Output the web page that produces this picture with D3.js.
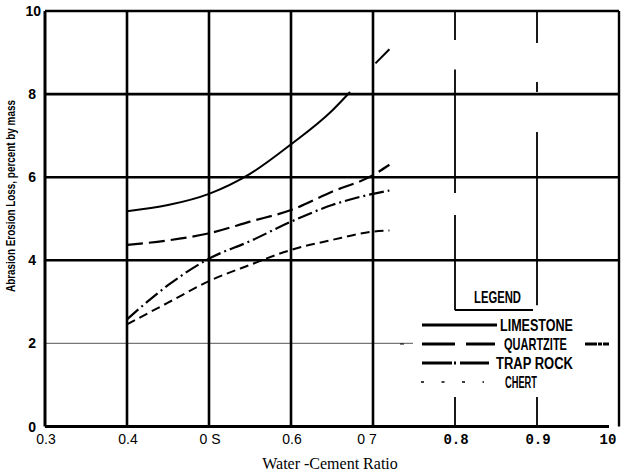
<!DOCTYPE html>
<html>
<head>
<meta charset="utf-8">
<script src="https://cdn.jsdelivr.net/npm/d3@7"></script>
<style>
  body { margin: 0; background: #fff; }
  svg { display: block; }
</style>
</head>
<body>
<div id="canvas"></div>
<script>
// water-cement ratio positions
const ratios = [0.4, 0.45, 0.5, 0.55, 0.6, 0.65, 0.7, 0.72];
// abrasion erosion loss, percent by mass
const limestoneX = [0.4, 0.45, 0.5, 0.55, 0.6, 0.65, 0.672, 0.686, 0.703, 0.72];
const limestone = [5.18, 5.33, 5.6, 6.08, 6.79, 7.6, 8.05, null, 8.74, 9.08];
const quartzite = [4.37, 4.48, 4.65, 4.93, 5.21, 5.65, 6.05, 6.3];
const trapRock = [2.58, 3.4, 4.04, 4.46, 4.93, 5.33, 5.6, 5.68];
const chert = [2.46, 2.98, 3.5, 3.89, 4.25, 4.49, 4.69, 4.72];

const xTicks = [0.3, 0.4, 0.5, 0.6, 0.7, 0.8, 0.9, 1.0];
const xTickLabels = ["0.3", "0.4", "0 S", "0.6", "0 7", "0.8", "0.9", "10"];
const yTicks = [0, 2, 4, 6, 8, 10];

// broken grid lines in the scan (value ranges that are drawn)
const vGridSegments = [
  { x: 0.8, parts: [[9.3, 10], [5.62, 8.59], [2.8, 5.09], [0, 0.71]] },
  { x: 0.9, parts: [[9.23, 10], [8.05, 8.29], [2.92, 7.09], [0, 0.71]] }
];

const legendNames = ["LIMESTONE", "QUARTZITE", "TRAP ROCK", "CHERT"];

const width = 624;
const height = 472;
const margin = { top: 11, left: 45, bottom: 45.5, right: 5 };
const iwidth = width - margin.left - margin.right;
const iheight = height - margin.top - margin.bottom;

const svg = d3.select("#canvas").append("svg")
  .attr("width", width)
  .attr("height", height);

const g = svg.append("g")
  .attr("transform", `translate(${margin.left},${margin.top})`);

const x = d3.scaleLinear().domain([0.3, 1.0]).range([0, iwidth]);
const y = d3.scaleLinear().domain([0, 10]).range([iheight, 0]);

// horizontal grid
yTicks.filter(d => d > 0).forEach(d => {
  const thin = d === 2;
  g.append("line")
    .attr("x1", 0)
    .attr("x2", thin ? x(0.8) - 42 : iwidth)
    .attr("y1", y(d)).attr("y2", y(d))
    .attr("stroke", thin ? "#777" : "#000")
    .attr("stroke-width", thin ? 1.3 : 2.6);
});

// vertical grid, solid ones
[0.4, 0.5, 0.6, 0.7, 1.0].forEach(d => {
  g.append("line")
    .attr("x1", x(d)).attr("x2", x(d))
    .attr("y1", y(10)).attr("y2", y(0))
    .attr("stroke", "#000")
    .attr("stroke-width", d === 1.0 ? 2.4 : 2.6);
});

// vertical grid, broken ones
vGridSegments.forEach(s => {
  s.parts.forEach(p => {
    g.append("line")
      .attr("x1", x(s.x)).attr("x2", x(s.x))
      .attr("y1", y(p[1])).attr("y2", y(p[0]))
      .attr("stroke", "#000")
      .attr("stroke-width", 1.8);
  });
});

// axes frame
g.append("line").attr("x1", 0).attr("x2", 0).attr("y1", y(10)).attr("y2", y(0))
  .attr("stroke", "#000").attr("stroke-width", 3);
g.append("line").attr("x1", 0).attr("x2", iwidth - 10).attr("y1", y(0)).attr("y2", y(0))
  .attr("stroke", "#000").attr("stroke-width", 3);

// y tick labels
g.selectAll(".ylab").data(yTicks).enter().append("text")
  .attr("class", "ylab")
  .attr("x", d => d === 10 ? -4 : -9)
  .attr("y", d => y(d))
  .attr("dy", "0.36em")
  .attr("text-anchor", "end")
  .style("font-family", "'Liberation Sans', Arial, sans-serif")
  .style("font-weight", "bold")
  .style("font-size", "14px")
  .text(d => d);

// x tick labels
g.selectAll(".xlab").data(xTicks).enter().append("text")
  .attr("class", "xlab")
  .attr("x", (d, i) => x(d) + (i === 4 ? -6 : i === 7 ? -11 : 1))
  .attr("y", iheight + 12)
  .attr("dy", "0.36em")
  .attr("text-anchor", "middle")
  .style("font-family", (d, i) => i >= 5 ? "'Liberation Mono', monospace" : "'Liberation Sans', Arial, sans-serif")
  .style("font-weight", (d, i) => i >= 5 ? "bold" : "normal")
  .style("font-size", "14px")
  .text((d, i) => xTickLabels[i]);

// axis titles
svg.append("text")
  .attr("x", 330)
  .attr("y", 463)
  .attr("dy", "0.35em")
  .attr("text-anchor", "middle")
  .style("font-family", "'Liberation Serif', 'Times New Roman', serif")
  .style("font-size", "16px")
  .text("Water -Cement Ratio");

// squeezed text: measure, then scale horizontally only
function squeezed(parent, str, tx, ty, tw, size, rot) {
  const t = parent.append("text")
    .attr("dy", "0.36em")
    .style("font-family", "'Liberation Sans', Arial, sans-serif")
    .style("font-weight", "bold")
    .style("font-size", size + "px")
    .text(str);
  const w = t.node().getComputedTextLength();
  const sx = tw / w;
  if (rot) {
    t.attr("text-anchor", "middle")
      .attr("transform", `translate(${tx},${ty}) rotate(-90) scale(${sx},1)`);
  } else {
    t.attr("transform", `translate(${tx},${ty}) scale(${sx},1)`);
  }
  return t;
}

squeezed(svg, "Abrasion Erosion Loss, percent by mass", 10, 196, 192, 12.5, true);

// curves
const line = d3.line()
  .defined(d => d[1] !== null)
  .x(d => x(d[0]))
  .y(d => y(d[1]))
  .curve(d3.curveMonotoneX);

const series = [
  { pts: limestoneX.map((r, i) => [r, limestone[i]]), dash: null, w: 2 },
  { pts: ratios.map((r, i) => [r, quartzite[i]]), dash: "16,6", w: 2.2 },
  { pts: ratios.map((r, i) => [r, trapRock[i]]), dash: "15,4,2,4", w: 2.2 },
  { pts: ratios.map((r, i) => [r, chert[i]]), dash: "9,5", w: 2 }
];

series.forEach(s => {
  g.append("path")
    .datum(s.pts)
    .attr("d", line)
    .attr("fill", "none")
    .attr("stroke", "#000")
    .attr("stroke-width", s.w)
    .attr("stroke-dasharray", s.dash);
});

// legend
const lg = svg.append("g");
lg.append("line").attr("x1", x(0.8) + margin.left).attr("x2", 533)
  .attr("y1", 310).attr("y2", 310).attr("stroke", "#000").attr("stroke-width", 1.8);
squeezed(lg, "LEGEND", 474, 297, 47, 16.5, false);

const legendRows = [
  { y: 325, tx: 500, tw: 73, x1: 422, x2: 497, dash: null, w: 3 },
  { y: 344, tx: 504, tw: 63, x1: 422, x2: 495, dash: "33,11,29", w: 3 },
  { y: 363, tx: 496, tw: 77, x1: 422, x2: 489, dash: "30,2,2,4,29", w: 3 },
  { y: 382, tx: 505, tw: 32, x1: 421, x2: 484, dash: "3,17.5", w: 1.5 }
];
legendRows.forEach((r, i) => {
  lg.append("line")
    .attr("x1", r.x1).attr("x2", r.x2)
    .attr("y1", r.y).attr("y2", r.y)
    .attr("stroke", "#000").attr("stroke-width", r.w)
    .attr("stroke-dasharray", r.dash);
  squeezed(lg, legendNames[i], r.tx, r.y, r.tw, 17, false);
});
// scan stubs beside quartzite row
lg.append("line").attr("x1", 400).attr("x2", 404).attr("y1", 344).attr("y2", 344)
  .attr("stroke", "#000").attr("stroke-width", 1);
lg.append("line").attr("x1", 585).attr("x2", 609).attr("y1", 344).attr("y2", 344)
  .attr("stroke", "#000").attr("stroke-width", 3).attr("stroke-dasharray", "12,1,4,1,6");
</script>
</body>
</html>
